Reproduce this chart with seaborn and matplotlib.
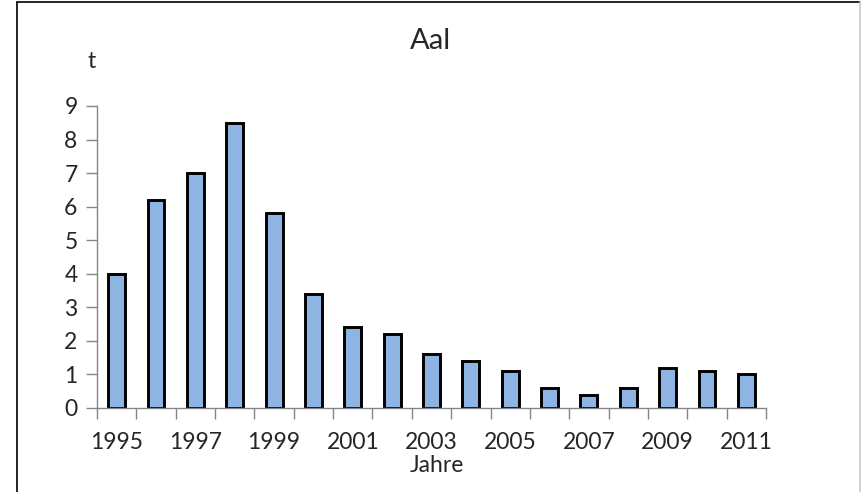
import numpy as np
import matplotlib.pyplot as plt
import seaborn as sns
import pandas as pd
from matplotlib.lines import Line2D

years = [str(y) for y in range(1995, 2012)]
tonnes = [4.0, 6.2, 7.0, 8.5, 5.8, 3.4, 2.4, 2.2, 1.6, 1.4, 1.1, 0.6, 0.4, 0.6, 1.2, 1.1, 1.0]
shown_years = years[::2]

bar_color = '#8EB4E3'
axis_gray = '#868686'


def main():
    sns.set_style('white')
    plt.rcParams['font.family'] = ['Lato', 'DejaVu Sans']

    data = pd.DataFrame({"Jahr": years, "t": tonnes})

    fig = plt.figure(figsize=(8.62, 4.92), dpi=100)
    ax = fig.add_axes([97 / 862, 1 - 408 / 492, (766 - 97) / 862, (408 - 106) / 492])

    sns.barplot(data=data, x="Jahr", y="t", order=years, color=bar_color,
                width=0.43, edgecolor='black', linewidth=2.1, saturation=1, ax=ax)

    ax.set_xlim(-0.5, len(years) - 0.5)
    ax.set_ylim(0, 9)
    ax.set_yticks(range(0, 10))
    ax.set_xticks([years.index(y) for y in shown_years])
    ax.set_xticklabels(shown_years)
    ax.set_xticks(np.arange(-0.5, len(years), 1), minor=True)
    ax.tick_params(axis='x', which='major', bottom=True, length=0, pad=17, labelsize=16.5)
    ax.tick_params(axis='x', which='minor', bottom=True, length=8, width=1, color=axis_gray, direction='out')
    ax.tick_params(axis='y', left=True, length=8, width=1, color=axis_gray, direction='out', pad=6, labelsize=16.5)
    ax.set_xlabel('')
    ax.set_ylabel('')

    for side in ['top', 'right']:
        ax.spines[side].set_visible(False)
    for side in ['left', 'bottom']:
        ax.spines[side].set_color(axis_gray)
        ax.spines[side].set_linewidth(1)

    fig.text(430 / 862, 1 - 41 / 492, 'Aal', ha='center', va='center', fontsize=21)
    fig.text(92 / 862, 1 - 61 / 492, 't', ha='center', va='center', fontsize=16.5)
    fig.text(437 / 862, 1 - 466 / 492, 'Jahre', ha='center', va='center', fontsize=16.5)

    # chart frame
    fig.add_artist(Line2D([17 / 862, 17 / 862], [0, 1 - 2 / 492], color='black', lw=1.2))
    fig.add_artist(Line2D([17 / 862, 860 / 862], [1 - 2 / 492, 1 - 2 / 492], color='black', lw=1.2))
    fig.add_artist(Line2D([860 / 862, 860 / 862], [0, 1 - 2 / 492], color='#c8c8c8', lw=1.2))

    fig.savefig('out.png', dpi=100)


if __name__ == '__main__':
    main()
